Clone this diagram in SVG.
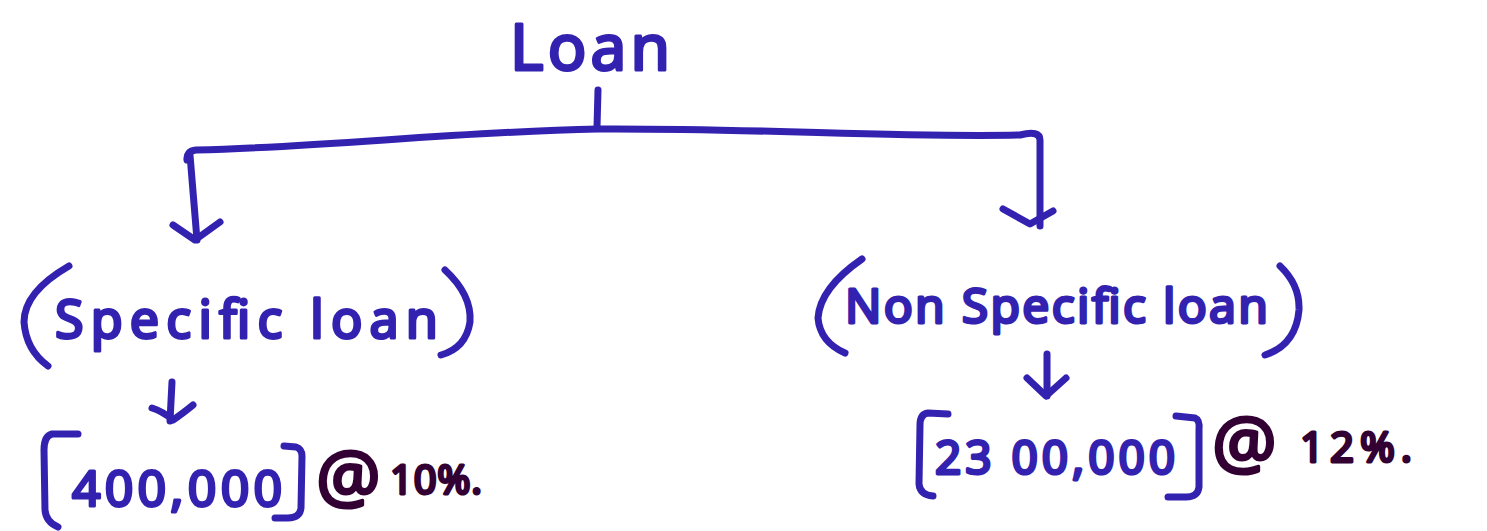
<svg xmlns="http://www.w3.org/2000/svg" width="1487" height="531" viewBox="0 0 1487 531">
  <style>
    .ink { fill: none; stroke: #3322b0; stroke-width: 7; stroke-linecap: round; stroke-linejoin: round; }
    .lbl { font-family: "Noto Sans", "Liberation Sans", sans-serif; fill: #3322b0; stroke: #3322b0; stroke-width: 3; stroke-linejoin: round; }
    .rate { font-family: "Noto Sans", "Liberation Sans", sans-serif; fill: #330033; stroke: #330033; stroke-width: 3; stroke-linejoin: round; }
  </style>
  <rect width="1487" height="531" fill="#ffffff"/>

  <!-- root -->
  <g id="loan">
    <text class="lbl" x="510" y="70" font-size="64" textLength="160" lengthAdjust="spacing">Loan</text>
  </g>

  <!-- branches from the root -->
  <g id="connectors">
    <path class="ink" d="M598 90 L597 127"/>
    <path class="ink" d="M187 160 Q186 151 196 150 C330 147 450 132 598 129 C760 128 900 138 1020 135 Q1040 130 1040 140 L1040 226"/>
    <path class="ink" d="M190 155 L197 240"/>
    <path class="ink" d="M173 225 L195 240 L220 222"/>
    <path class="ink" d="M1003 209 L1030 224 L1053 211"/>
    <path class="ink" d="M172 382 L170 421"/>
    <path class="ink" d="M152 408 Q162 411 173 420 Q182 414 193 405"/>
    <path class="ink" d="M1047 354 L1047 396"/>
    <path class="ink" d="M1027 378 L1046 396 L1066 378"/>
  </g>

  <!-- specific loan -->
  <g id="specific">
    <path class="ink" d="M69 266 Q24 292 24 322 Q26 350 48 366"/>
    <text class="lbl" x="55" y="338" font-size="52" textLength="383" lengthAdjust="spacing">Specific loan</text>
    <path class="ink" d="M445 270 Q472 295 470 322 Q466 348 441 355"/>
  </g>

  <!-- non specific loan -->
  <g id="nonspecific">
    <path class="ink" d="M862 259 Q820 288 818 318 Q820 342 845 353"/>
    <text class="lbl" x="845" y="323" font-size="48" textLength="423" lengthAdjust="spacing">Non Specific loan</text>
    <path class="ink" d="M1280 266 Q1300 285 1299 310 Q1296 345 1265 355"/>
  </g>

  <!-- 400,000 @ 10% -->
  <g id="specific-amount">
    <path class="ink" d="M78 434 L52 434 Q44 436 44 450 L45 510 Q46 522 58 527"/>
    <text class="lbl" x="72" y="506" font-size="50" textLength="210" lengthAdjust="spacing">400,000</text>
    <path class="ink" d="M284 446 L296 447 Q302 449 302 456 L301 508 Q300 518 288 518 L275 518"/>
    <text class="rate" x="316" y="502" font-size="72">@</text>
    <text class="rate" x="390" y="494" font-size="40" textLength="92" lengthAdjust="spacing">10%.</text>
  </g>

  <!-- 23 00,000 @ 12% -->
  <g id="nonspecific-amount">
    <path class="ink" d="M948 414 L928 413 Q920 414 920 425 L919 484 Q920 495 933 496"/>
    <text class="lbl" x="935" y="474" font-size="46" textLength="240" lengthAdjust="spacing">23 00,000</text>
    <path class="ink" d="M1176 416 L1195 418 Q1200 420 1199 430 L1199 487 Q1198 497 1186 497 L1168 497"/>
    <text class="rate" x="1212" y="468" font-size="72">@</text>
    <text class="rate" x="1300" y="462" font-size="42" textLength="112" lengthAdjust="spacing">12%.</text>
  </g>
</svg>
